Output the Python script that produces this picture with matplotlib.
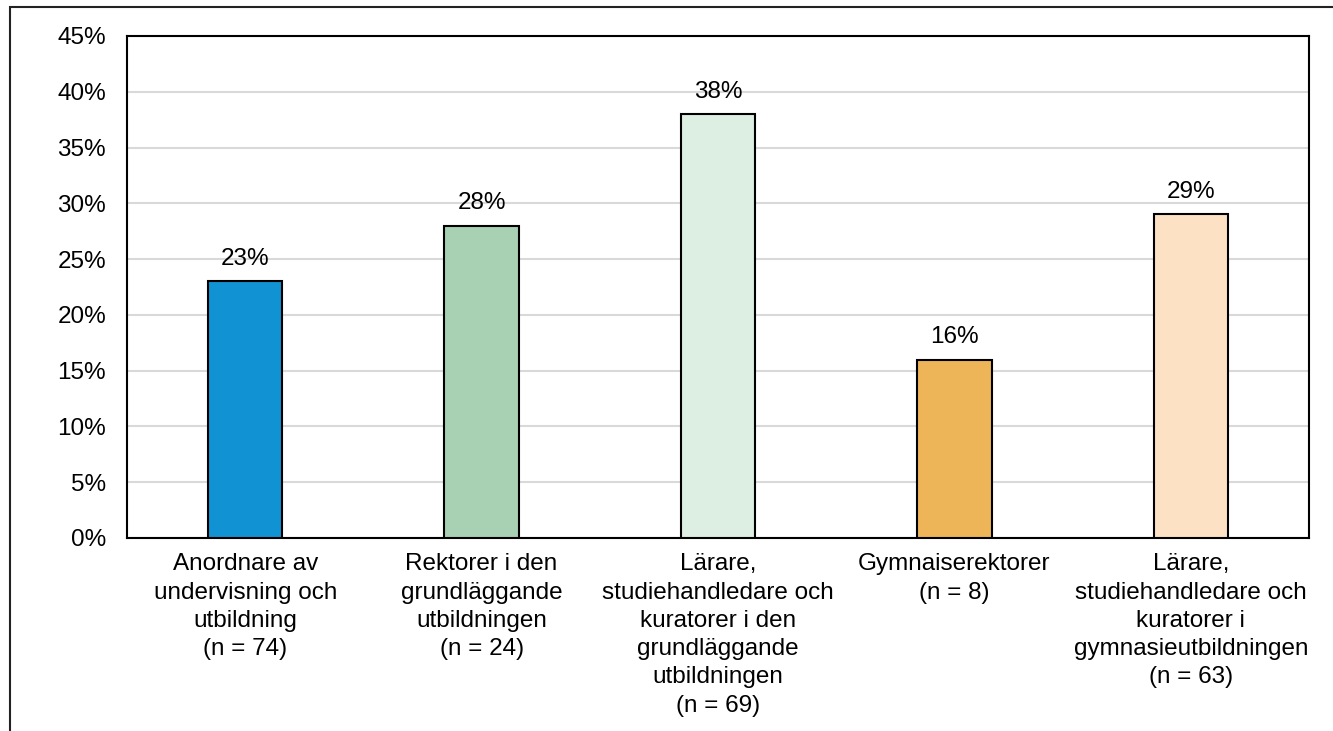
import matplotlib.pyplot as plt
from matplotlib.patches import Rectangle

plt.rcParams['font.family'] = ['Liberation Sans', 'DejaVu Sans']

# Data
categories = [
    "Anordnare av\nundervisning och\nutbildning\n(n = 74)",
    "Rektorer i den\ngrundläggande\nutbildningen\n(n = 24)",
    "Lärare,\nstudiehandledare och\nkuratorer i den\ngrundläggande\nutbildningen\n(n = 69)",
    "Gymnaiserektorer\n(n = 8)",
    "Lärare,\nstudiehandledare och\nkuratorer i\ngymnasieutbildningen\n(n = 63)",
]
values = [23, 28, 38, 16, 29]
colors = ["#1192d2", "#a8d1b3", "#ddeee2", "#edb458", "#fce1c5"]

fig = plt.figure(figsize=(13.33, 7.31), dpi=100)
ax = fig.add_axes([127 / 1333, 1 - 538 / 731, (1309 - 127) / 1333, (538 - 36) / 731])

# outer chart border (cropped picture, runs off right and bottom)
fig.patches.append(Rectangle((10 / 1333, -0.1), 1.2, 1 - 7 / 731 + 0.1,
                             transform=fig.transFigure, fill=False,
                             edgecolor="#222222", linewidth=1.5))

x = range(len(values))
ax.bar(x, values, width=0.315, color=colors, edgecolor="black", linewidth=1.5, zorder=3)

for i, v in enumerate(values):
    ax.text(i, v + 1.0, f"{v}%", ha="center", va="bottom", fontsize=17.5)

ax.set_xlim(-0.5, len(values) - 0.5)
ax.set_ylim(0, 45)
ax.set_yticks(range(0, 50, 5))
ax.set_yticklabels([f"{t}%" for t in range(0, 50, 5)], fontsize=17.5)
ax.set_xticks(list(x))
ax.set_xticklabels(categories, fontsize=17.5, linespacing=1.37)
ax.tick_params(axis="x", length=0, pad=11)
ax.tick_params(axis="y", length=0, pad=15)
ax.grid(axis="y", color="#d9d9d9", linewidth=1.5, zorder=0)
for s in ax.spines.values():
    s.set_linewidth(1.5)
    s.set_color("black")

fig.savefig("out.png", dpi=100)
